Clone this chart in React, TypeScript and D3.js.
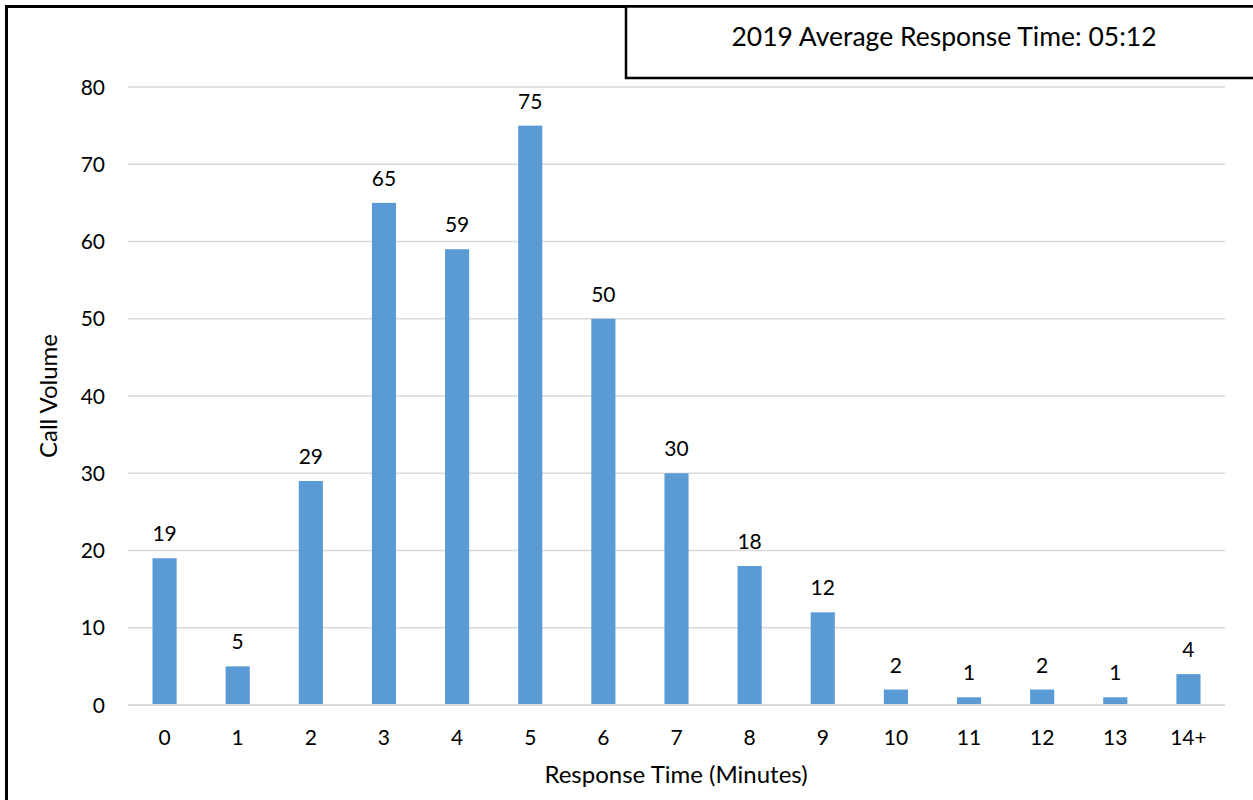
import React from "react";
import * as d3 from "d3";

const categories = ["0","1","2","3","4","5","6","7","8","9","10","11","12","13","14+"];
const callVolume = [19,5,29,65,59,75,50,30,18,12,2,1,2,1,4];
const yTicks = [0,10,20,30,40,50,60,70,80];
const titleText = "2019 Average Response Time: 05:12";
const xTitle = "Response Time (Minutes)";
const yTitle = "Call Volume";

const W = 1253, H = 800;
const left = 128, right = 1225, top = 87, bottom = 705;
const FONT = "Lato, Carlito, Calibri, sans-serif";

export default function App() {
  const x = d3.scaleBand<string>().domain(categories).range([left, right]).paddingInner(0.67).paddingOuter(0.335);
  const y = d3.scaleLinear().domain([0, 80]).range([bottom, top]);
  return (
    <svg width={W} height={H} style={{ position: "absolute", left: 0, top: 0, background: "#fff" }} fontFamily={FONT}>
      <rect x={0} y={0} width={W} height={H} fill="#fff" />
      <rect x={6.5} y={6.5} width={W + 20} height={H + 20} fill="none" stroke="#000" strokeWidth={3} />
      {yTicks.map(t => (
        <g key={t}>
          <line x1={left} x2={right} y1={y(t)} y2={y(t)} stroke="#d9d9d9" strokeWidth={t === 0 ? 2 : 1.5} />
          <text x={105} y={y(t)} dy="0.36em" textAnchor="end" fontSize={21} fill="#000">{t}</text>
        </g>
      ))}
      {categories.map((c, i) => {
        const bx = x(c)!;
        const bw = x.bandwidth();
        const cx = bx + bw / 2;
        return (
          <g key={c}>
            <rect x={bx} y={y(callVolume[i])} width={bw} height={y(0) - y(callVolume[i]) - 1} fill="#5B9BD5" />
            <text x={cx} y={y(callVolume[i]) - 17} textAnchor="middle" fontSize={21} fill="#000">{callVolume[i]}</text>
            <text x={cx} y={745} textAnchor="middle" fontSize={21} fill="#000">{c}</text>
          </g>
        );
      })}
      <text x={676} y={783} textAnchor="middle" fontSize={24} fill="#000">{xTitle}</text>
      <text transform={`translate(57,396) rotate(-90)`} textAnchor="middle" fontSize={24} fill="#000">{yTitle}</text>
      <rect x={626} y={6.5} width={W} height={71.5} fill="#fff" stroke="#000" strokeWidth={2.5} />
      <text x={944} y={46} textAnchor="middle" fontSize={26.5} fill="#000">{titleText}</text>
    </svg>
  );
}
